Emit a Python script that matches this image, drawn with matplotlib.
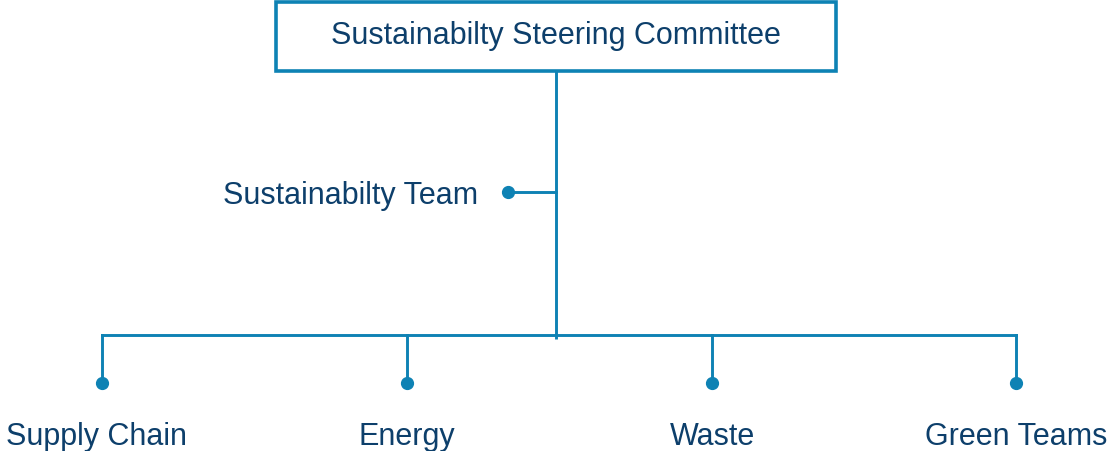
import matplotlib.pyplot as plt
from matplotlib.patches import Rectangle

# org chart content
top_label = "Sustainabilty Steering Committee"
team_label = "Sustainabilty Team"
branch_labels = ["Supply Chain", "Energy", "Waste", "Green Teams"]
branch_x = [102, 407, 712, 1016]
label_x = [96, 407, 712, 1016]

line_c = "#0E82B4"
text_c = "#0D3F6B"
fs = 22

plt.rcParams['font.family'] = ['Liberation Sans', 'DejaVu Sans']

fig = plt.figure(figsize=(11.1, 4.51), dpi=100)
ax = fig.add_axes([0, 0, 1, 1])
ax.set_xlim(0, 1110)
ax.set_ylim(451, 0)
ax.axis('off')

# top box
ax.add_patch(Rectangle((276, 2), 560, 69, fill=False, edgecolor=line_c, lw=2.6))
ax.text(556, 44, top_label, ha='center', va='baseline', fontsize=fs, color=text_c)

# trunk
ax.plot([556, 556], [71, 339], color=line_c, lw=2.1, solid_capstyle='butt')

# team branch
ax.plot([508, 556], [192, 192], color=line_c, lw=2.1)
ax.plot([508], [192], 'o', color=line_c, ms=8.5)
ax.text(478, 204, team_label, ha='right', va='baseline', fontsize=fs, color=text_c)

# bottom bar
ax.plot([branch_x[0], branch_x[-1]], [335, 335], color=line_c, lw=2.1)
for bx, lx, lab in zip(branch_x, label_x, branch_labels):
    ax.plot([bx, bx], [335, 383], color=line_c, lw=2.1)
    ax.plot([bx], [383], 'o', color=line_c, ms=8.5)
    ax.text(lx, 445, lab, ha='center', va='baseline', fontsize=fs, color=text_c)

fig.savefig("out.png", dpi=100)
